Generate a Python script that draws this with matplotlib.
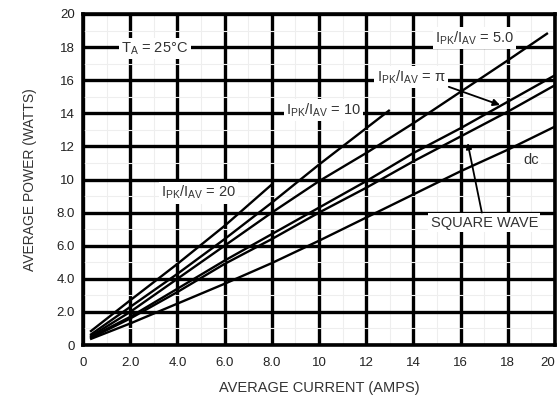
import matplotlib
matplotlib.use("Agg")
import matplotlib.pyplot as plt
from matplotlib.ticker import MultipleLocator

plt.rcParams['font.family'] = ['Liberation Sans', 'DejaVu Sans']
plt.rcParams['mathtext.fontset'] = 'custom'
plt.rcParams['mathtext.rm'] = 'Liberation Sans'
plt.rcParams['mathtext.it'] = 'Liberation Sans'

# Average power dissipation vs. average current, per waveform
current_20 = [0.3, 2, 4, 6, 8]
power_20 = [0.8, 2.7, 4.9, 7.2, 9.7]

current_10 = [0.3, 2, 4, 6, 8, 10, 12, 13]
power_10 = [0.6, 2.3, 4.3, 6.4, 8.6, 10.9, 13.1, 14.2]

current_5 = [0.3, 2, 4, 6, 8, 10, 12, 14, 16, 18, 19.7]
power_5 = [0.5, 2.0, 4.0, 6.0, 8.0, 9.9, 11.6, 13.4, 15.3, 17.2, 18.85]

current_pi = [0.3, 2, 4, 6, 8, 10, 12, 14, 16, 18, 20]
power_pi = [0.45, 1.7, 3.4, 5.1, 6.7, 8.3, 9.9, 11.6, 13.1, 14.7, 16.3]

current_sq = [0.3, 2, 4, 6, 8, 10, 12, 14, 16, 18, 20]
power_sq = [0.4, 1.6, 3.2, 4.9, 6.4, 8.0, 9.5, 11.1, 12.6, 14.1, 15.7]

current_dc = [0.3, 2, 4, 6, 8, 10, 12, 14, 16, 18, 20]
power_dc = [0.35, 1.3, 2.5, 3.7, 4.95, 6.3, 7.7, 9.1, 10.5, 11.8, 13.2]

x_ticks = [0, 2, 4, 6, 8, 10, 12, 14, 16, 18, 20]
x_tick_labels = ['0', '2.0', '4.0', '6.0', '8.0', '10', '12', '14', '16', '18', '20']
y_ticks = [0, 2, 4, 6, 8, 10, 12, 14, 16, 18, 20]
y_tick_labels = ['0', '2.0', '4.0', '6.0', '8.0', '10', '12', '14', '16', '18', '20']

W, H = 559, 403
fig = plt.figure(figsize=(W / 100, H / 100), dpi=100)
fig.patch.set_facecolor('white')
ax = fig.add_axes([83 / W, 1 - 345 / H, (555 - 83) / W, (345 - 14) / H])
ax.set_xlim(0, 20)
ax.set_ylim(0, 20)

# grid
ax.xaxis.set_minor_locator(MultipleLocator(1))
ax.yaxis.set_minor_locator(MultipleLocator(1))
ax.grid(which='minor', color='#eeeeee', linewidth=0.8, zorder=0)
ax.grid(which='major', color='black', linewidth=2.4, zorder=1)

for s in ax.spines.values():
    s.set_linewidth(2.6)
    s.set_color('black')

ax.set_xticks(x_ticks)
ax.set_xticklabels(x_tick_labels)
ax.set_yticks(y_ticks)
ax.set_yticklabels(y_tick_labels)
ax.tick_params(which='both', length=0, labelsize=9.5, colors='#222222', pad=6)
ax.tick_params(axis='x', pad=9)
# last x label sits at the right edge of the figure
last = ax.get_xticklabels()[-1]
last.set_horizontalalignment('right')
last.set_x(20.2)

series = [
    (current_20, power_20),
    (current_10, power_10),
    (current_5, power_5),
    (current_pi, power_pi),
    (current_sq, power_sq),
    (current_dc, power_dc),
]
for cx, py in series:
    ax.plot(cx, py, color='black', linewidth=1.7, zorder=3, solid_capstyle='butt')

box = dict(boxstyle='square,pad=0.15', facecolor='white', edgecolor='none')
txt = dict(fontsize=10.5, color='#333333', ha='center', va='center', zorder=5)

ax.text(3.05, 17.9, r'T$_A$ = 25°C', bbox=box, **txt)
ax.text(4.9, 9.2, r'I$_{PK}$/I$_{AV}$ = 20', bbox=box, **txt)
ax.text(10.2, 14.2, r'I$_{PK}$/I$_{AV}$ = 10', bbox=box, **txt)
ax.text(16.6, 18.55, r'I$_{PK}$/I$_{AV}$ = 5.0', bbox=box, **txt)
ax.text(13.9, 16.2, r'I$_{PK}$/I$_{AV}$ = $\pi$', bbox=box, **txt)
ax.text(17.0, 7.4, 'SQUARE WAVE', bbox=box, **txt)
ax.text(19.0, 11.2, 'dc', bbox=box, **txt)

ax.annotate('', xy=(17.67, 14.5), xytext=(15.5, 15.6),
            arrowprops=dict(arrowstyle='-|>', color='black', lw=1.3,
                            mutation_scale=10, shrinkA=0, shrinkB=0), zorder=6)
ax.annotate('', xy=(16.3, 12.2), xytext=(16.9, 8.0),
            arrowprops=dict(arrowstyle='-|>', color='black', lw=1.3,
                            mutation_scale=8, shrinkA=0, shrinkB=0), zorder=6)

ax.set_xlabel('AVERAGE CURRENT (AMPS)', fontsize=10.5, color='#333333', labelpad=8)
ax.set_ylabel('AVERAGE POWER (WATTS)', fontsize=10, color='#333333', labelpad=14)

fig.savefig('out.png', dpi=100, facecolor='white')
